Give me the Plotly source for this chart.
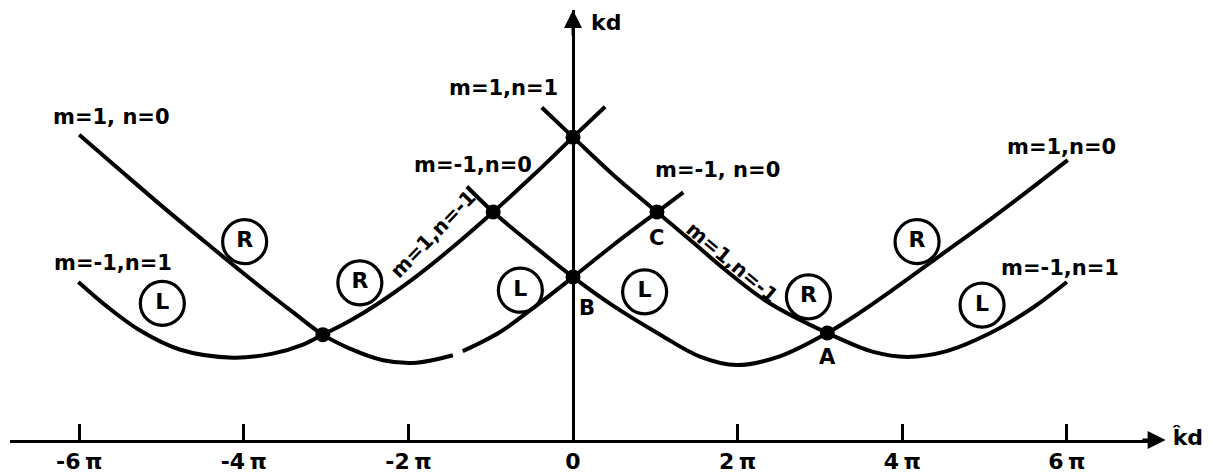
import plotly.graph_objects as go

# Dispersion branches: beta*d / pi along x, k*d / pi along y
fam1_left_x = [-6.00, -5.47, -4.98, -4.45, -3.96, -3.40, -3.04, -2.71, -2.31, -1.90, -1.46, None,
               -1.34, -0.89, -0.49, 0.00, 0.49, 1.02, 1.34]
fam1_left_y = [3.71, 3.25, 2.83, 2.39, 1.99, 1.55, 1.28, 1.11, 0.97, 0.94, 1.03, None,
               1.08, 1.31, 1.60, 1.98, 2.37, 2.77, 3.01]

fam2_left_x = [-6.01, -5.66, -5.26, -4.78, -4.13, -3.65, -3.28, -3.04, -2.71, -2.38, -1.98,
               -1.49, -0.97, -0.49, 0.00, 0.39]
fam2_left_y = [1.92, 1.62, 1.33, 1.10, 1.00, 1.05, 1.16, 1.28, 1.45, 1.65, 1.93,
               2.32, 2.77, 3.21, 3.68, 4.05]

fam1_right_x = [-1.29, -0.97, -0.49, 0.00, 0.49, 1.06, 1.55, 1.99, 2.52, 3.09, 3.49, 3.85,
                4.46, 5.07, 5.52, 6.01]
fam1_right_y = [3.08, 2.77, 2.37, 1.98, 1.63, 1.28, 1.01, 0.91, 1.02, 1.30, 1.55, 1.80,
                2.24, 2.68, 3.02, 3.40]

fam2_right_x = [-0.38, 0.00, 0.49, 1.02, 1.46, 1.87, 2.36, 3.09, 3.65, 4.06, 4.54, 5.07, 5.59, 6.00]
fam2_right_y = [4.04, 3.68, 3.22, 2.77, 2.40, 2.05, 1.68, 1.30, 1.07, 1.01, 1.08, 1.30, 1.61, 1.92]

# Crossing points of the branches
cross_x = [-3.04, -0.97, 0.00, 0.00, 1.02, 3.09]
cross_y = [1.28, 2.77, 3.68, 1.98, 2.77, 1.30]

# Polarisation markers (R = right-hand, L = left-hand)
pol_text = ["R", "L", "R", "L", "L", "R", "R", "L"]
pol_x = [-3.99, -4.99, -2.59, -0.64, 0.87, 2.86, 4.18, 4.97]
pol_y = [2.41, 1.66, 1.91, 1.82, 1.80, 1.74, 2.41, 1.64]

# Mode labels
mode_text = ["m=1, n=0", "m=-1,n=1", "m=1,n=1", "m=-1,n=0", "m=-1, n=0", "m=1,n=0", "m=-1,n=1"]
mode_x = [-5.61, -5.59, -0.85, -1.22, 1.75, 5.93, 5.92]
mode_y = [3.93, 2.15, 4.28, 3.34, 3.28, 3.56, 2.09]

slant_text = ["m=1,n=-1", "m=1,n=-1"]
slant_x = [-1.70, 1.93]
slant_y = [2.50, 2.16]
slant_angle = [-46, 40]

point_text = ["A", "B", "C"]
point_x = [3.09, 0.17, 1.02]
point_y = [1.01, 1.60, 2.45]

tick_vals = [-6, -4, -2, 0, 2, 4, 6]
tick_text = ["-6\u2009\u03c0", "-4\u2009\u03c0", "-2\u2009\u03c0", "0", "2\u2009\u03c0", "4\u2009\u03c0", "6\u2009\u03c0"]

FONT = "DejaVu Sans"
INK = "#000000"

fig = go.Figure()

for xs, ys in [(fam1_left_x, fam1_left_y), (fam2_left_x, fam2_left_y),
               (fam1_right_x, fam1_right_y), (fam2_right_x, fam2_right_y)]:
    fig.add_trace(go.Scatter(
        x=xs, y=ys, mode="lines",
        line=dict(color=INK, width=4, shape="spline", smoothing=1.0),
        connectgaps=False, cliponaxis=False, hoverinfo="skip", showlegend=False))

fig.add_trace(go.Scatter(
    x=cross_x, y=cross_y, mode="markers",
    marker=dict(symbol="circle", size=15, color=INK),
    cliponaxis=False, hoverinfo="skip", showlegend=False))

fig.add_trace(go.Scatter(
    x=pol_x, y=pol_y, mode="markers+text", text=pol_text,
    textposition="middle center",
    textfont=dict(family=FONT, size=22, color=INK, weight="bold"),
    marker=dict(symbol="circle-open", size=44, color=INK, line=dict(width=3.2, color=INK)),
    cliponaxis=False, hoverinfo="skip", showlegend=False))

annotations = []
for t, x, y in zip(mode_text, mode_x, mode_y):
    annotations.append(dict(x=x, y=y, text=t, showarrow=False,
                            font=dict(family=FONT, size=21, color=INK, weight="bold")))
for t, x, y, a in zip(slant_text, slant_x, slant_y, slant_angle):
    annotations.append(dict(x=x, y=y, text=t, showarrow=False, textangle=a,
                            font=dict(family=FONT, size=20, color=INK, weight="bold")))
for t, x, y in zip(point_text, point_x, point_y):
    annotations.append(dict(x=x, y=y, text=t, showarrow=False,
                            font=dict(family=FONT, size=21, color=INK, weight="bold")))

# Axis arrowheads and axis names
annotations.append(dict(x=0, y=5.225, ax=0, ay=4.9, xref="x", yref="y", axref="x", ayref="y",
                        showarrow=True, arrowhead=2, arrowsize=1.2, arrowwidth=3,
                        arrowcolor=INK, text=""))
annotations.append(dict(x=7.2, y=0, ax=6.9, ay=0, xref="x", yref="y", axref="x", ayref="y",
                        showarrow=True, arrowhead=2, arrowsize=1.2, arrowwidth=3,
                        arrowcolor=INK, text=""))
annotations.append(dict(x=0.40, y=5.07, text="kd", showarrow=False,
                        font=dict(family=FONT, size=22, color=INK, weight="bold")))
annotations.append(dict(x=1.0243, y=0.006, xref="paper", yref="paper", text="k\u0302d",
                        xanchor="center", yanchor="middle", showarrow=False,
                        font=dict(family=FONT, size=22, color=INK, weight="bold")))

fig.update_layout(
    width=1213, height=475,
    margin=dict(l=10, r=53, t=10, b=35, autoexpand=False),
    paper_bgcolor="white", plot_bgcolor="white",
    annotations=annotations,
    xaxis=dict(range=[-6.841, 7.132], showgrid=False, automargin=False,
               zeroline=True, zerolinewidth=3, zerolinecolor=INK,
               showline=True, linewidth=3, linecolor=INK,
               ticks="inside", ticklen=16, tickwidth=3, tickcolor=INK,
               tickvals=tick_vals, ticktext=tick_text,
               tickfont=dict(family=FONT, size=22, color=INK, weight="bold"),
               ticklabelstandoff=0, fixedrange=True),
    yaxis=dict(range=[0, 5.225], visible=False, fixedrange=True, automargin=False),
)

fig.write_html("out.html")
